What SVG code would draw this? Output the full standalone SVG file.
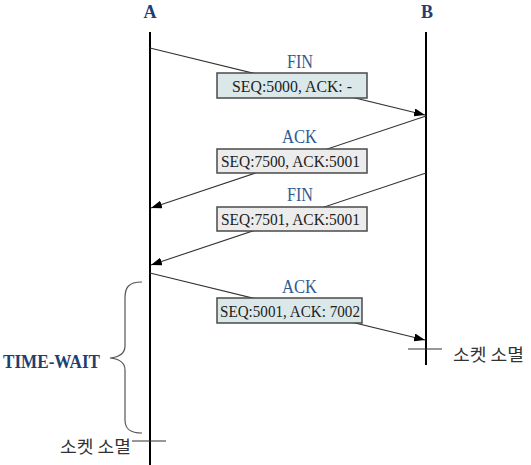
<svg xmlns="http://www.w3.org/2000/svg" width="531" height="465" viewBox="0 0 531 465">
<style>
.life{stroke:#000;stroke-width:2;fill:none}
.msg{stroke:#333;stroke-width:1.1;fill:none;marker-end:url(#ah)}
.box{stroke:#4a4a4a;stroke-width:1.5}
.blue{fill:#dbe8ea}
.gray{fill:#ececec}
.seq{font-family:"Liberation Serif","Times New Roman",serif;font-size:17.5px;fill:#222}
.lbl{font-family:"Liberation Serif","Times New Roman",serif;font-size:18.5px;fill:#2f5a92}
.head{font-family:"Liberation Serif","Times New Roman",serif;font-size:18px;font-weight:bold;fill:#1f3f73;text-anchor:middle}
.kr{font-family:"Noto Sans CJK KR",sans-serif;font-size:17px;fill:#333}
.tick{stroke:#333;stroke-width:1.2}
</style>
<defs>
<marker id="ah" markerWidth="12" markerHeight="8" refX="11" refY="4" orient="auto" markerUnits="userSpaceOnUse">
<path d="M0,0 L11,4 L0,8 Z" fill="#000"/>
</marker>
</defs>
<rect width="531" height="465" fill="#fff"/>
<g id="lifelineA">
<text class="head" x="150" y="18">A</text>
<line class="life" x1="150" y1="32" x2="150" y2="465"/>
</g>
<g id="lifelineB">
<text class="head" x="427" y="18">B</text>
<line class="life" x1="426" y1="32" x2="426" y2="365"/>
</g>
<g id="connectors">
<line class="msg" x1="150" y1="48" x2="425" y2="115"/>
<line class="msg" x1="426" y1="116" x2="151" y2="208"/>
<line class="msg" x1="426" y1="173" x2="151" y2="265"/>
<line class="msg" x1="150" y1="273" x2="425" y2="340"/>
</g>
<g id="msg1">
<text class="lbl" x="287" y="68" textLength="26" lengthAdjust="spacingAndGlyphs">FIN</text>
<rect class="box blue" x="217" y="73" width="150" height="25"/>
<text class="seq" x="232" y="92" textLength="120" lengthAdjust="spacingAndGlyphs">SEQ:5000, ACK: -</text>
</g>
<g id="msg2">
<text class="lbl" x="282" y="143" textLength="35" lengthAdjust="spacingAndGlyphs">ACK</text>
<rect class="box gray" x="217" y="149" width="150" height="24"/>
<text class="seq" x="221" y="167" textLength="139" lengthAdjust="spacingAndGlyphs">SEQ:7500, ACK:5001</text>
</g>
<g id="msg3">
<text class="lbl" x="287" y="201" textLength="26" lengthAdjust="spacingAndGlyphs">FIN</text>
<rect class="box gray" x="217" y="207" width="150" height="24"/>
<text class="seq" x="221" y="225" textLength="139" lengthAdjust="spacingAndGlyphs">SEQ:7501, ACK:5001</text>
</g>
<g id="msg4">
<text class="lbl" x="282" y="293" textLength="35" lengthAdjust="spacingAndGlyphs">ACK</text>
<rect class="box blue" x="217" y="298" width="145" height="25"/>
<text class="seq" x="220" y="317" textLength="140" lengthAdjust="spacingAndGlyphs">SEQ:5001, ACK: 7002</text>
</g>
<g id="closeB">
<line class="tick" x1="408" y1="349" x2="442" y2="349"/>
<text class="kr" x="453" y="361" textLength="71" lengthAdjust="spacingAndGlyphs">소켓 소멸</text>
</g>
<g id="timewait">
<path d="M142,282 C128,282 125,288 125,298 L125,346 C125,353 120,357 110,358 C120,359 125,363 125,370 L125,420 C125,429 130,433 142,433" fill="none" stroke="#555" stroke-width="1.2"/>
<text x="3" y="368" font-family="Liberation Serif, Times New Roman, serif" font-size="18" font-weight="bold" fill="#1f3f73" textLength="97" lengthAdjust="spacingAndGlyphs">TIME-WAIT</text>
</g>
<g id="closeA">
<line class="tick" x1="132" y1="441" x2="166" y2="441"/>
<text class="kr" x="60" y="453" textLength="71" lengthAdjust="spacingAndGlyphs">소켓 소멸</text>
</g>
</svg>
